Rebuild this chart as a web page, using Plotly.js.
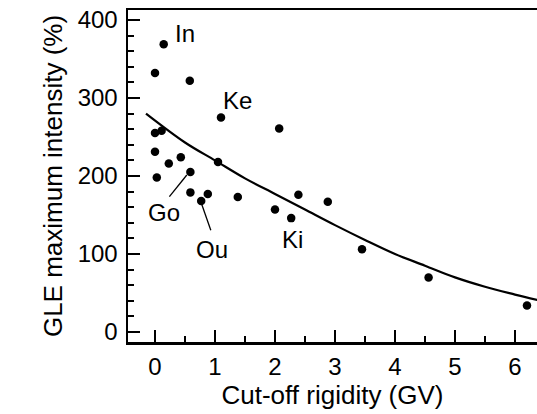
<!DOCTYPE html>
<html>
<head>
<meta charset="utf-8">
<script src="https://cdn.plot.ly/plotly-3.0.1.min.js"></script>
<style>html,body{margin:0;padding:0;background:#fff;}#chart{width:537px;height:414px;}</style>
</head>
<body>
<div id="chart"></div>
<script>
// Observed GLE events: cut-off rigidity (GV) vs max intensity (%)
const rigidity = [0.145, 0.0, 0.58, 1.10, 2.07, 0.0, 0.11, 0.0, 0.23, 0.43, 1.05, 0.03, 0.59, 0.59, 0.88, 0.77, 1.38, 2.00, 2.27, 2.39, 2.88, 3.45, 4.56, 6.20];
const intensity = [369, 332, 322, 275, 261, 255, 258, 231, 216, 224, 218, 198, 205, 179, 177, 168, 173, 157, 146, 176, 167, 106, 70, 34];

// Fitted curve
const curveX = [-0.15, 0.5, 1.0, 1.5, 2.0, 2.5, 3.0, 3.5, 4.0, 4.5, 5.0, 5.5, 6.0, 6.37];
const curveY = [280, 243, 220, 197, 177, 157, 137, 118, 100, 85, 70, 58, 48, 41];

// Station labels
const labelText = ["In", "Ke", "Go", "Ou", "Ki"];
const labelX = [0.5, 1.383, 0.15, 0.958, 2.3];
const labelY = [383.3, 297.4, 152.6, 106.4, 119.2];

// Leader lines (Go, Ou)
const goLeaderX = [0.24, 0.53];
const goLeaderY = [173.5, 201.3];
const ouLeaderX = [0.93, 0.78];
const ouLeaderY = [130.4, 163.5];

const FONT = "Liberation Sans, Arial, Helvetica, sans-serif";

const traces = [
  {x: curveX, y: curveY, mode: "lines", line: {color: "#000", width: 2.2, shape: "spline", smoothing: 1}, hoverinfo: "skip"},
  {x: goLeaderX, y: goLeaderY, mode: "lines", line: {color: "#000", width: 1.3}},
  {x: ouLeaderX, y: ouLeaderY, mode: "lines", line: {color: "#000", width: 1.3}},
  {x: rigidity, y: intensity, mode: "markers", marker: {color: "#000", size: 8.5}}
];

const annotations = labelText.map((t, i) => ({
  x: labelX[i], y: labelY[i], text: t, showarrow: false,
  xanchor: "center", yanchor: "middle",
  font: {family: FONT, size: 24, color: "#000"}
}));

const layout = {
  width: 537, height: 414,
  margin: {l: 128, r: 0, t: 10, b: 72},
  paper_bgcolor: "#fff", plot_bgcolor: "#fff",
  showlegend: false,
  font: {family: FONT, color: "#000"},
  annotations: annotations,
  xaxis: {
    range: [-0.45, 6.367], showgrid: false, zeroline: false,
    showline: true, linecolor: "#000", linewidth: 2.5, mirror: true,
    ticks: "inside", ticklen: 12, tickwidth: 2, tickcolor: "#000",
    tickvals: [0, 1, 2, 3, 4, 5, 6],
    minor: {ticks: "inside", ticklen: 6, tickwidth: 2, tickcolor: "#000", dtick: 0.5, tick0: 0, showgrid: false},
    tickfont: {family: FONT, size: 24},
    ticklabelstandoff: 2,
    title: {text: "Cut-off rigidity (GV)", font: {family: FONT, size: 26}, standoff: 2}
  },
  yaxis: {
    range: [-12.8, 412.8], showgrid: false, zeroline: false,
    showline: true, linecolor: "#000", linewidth: 2.5, mirror: false,
    ticks: "inside", ticklen: 12, tickwidth: 2, tickcolor: "#000",
    tickvals: [0, 100, 200, 300, 400],
    minor: {ticks: "inside", ticklen: 6, tickwidth: 2, tickcolor: "#000", dtick: 20, tick0: 0, showgrid: false},
    tickfont: {family: FONT, size: 24},
    ticklabelstandoff: 3,
    title: {text: "GLE maximum intensity (%)", font: {family: FONT, size: 26}, standoff: 8}
  }
};

Plotly.newPlot("chart", traces, layout, {staticPlot: true, displayModeBar: false});
</script>
</body>
</html>
